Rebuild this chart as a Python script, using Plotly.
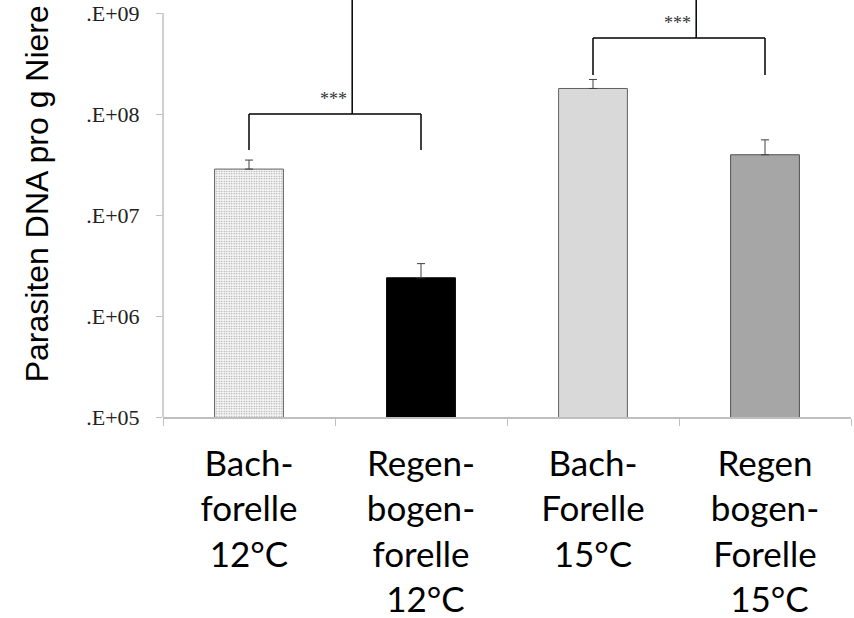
import numpy as np
import plotly.graph_objects as go

# ---- data ----
categories = ["Bach-<br>forelle<br>12°C",
              "Regen-<br>bogen-<br>forelle<br> 12°C",
              "Bach-<br>Forelle<br>15°C",
              "Regen<br>bogen-<br>Forelle<br> 15°C"]
values = [2.85e7, 2.39e6, 1.79e8, 3.95e7]
err_upper = [3.5e7, 3.3e6, 2.2e8, 5.55e7]
bar_colors = ["#f7f7f7", "#000000", "#d9d9d9", "#a6a6a6"]
ytick_vals = [1e5, 1e6, 1e7, 1e8, 1e9]
ytick_text = [".E+05", ".E+06", ".E+07", ".E+08", ".E+09"]

# significance brackets: (left idx, right idx, split pos, bar level, leg bottom)
brackets = [
    (0, 1, 0.6, 1.0e8, 4.4e7),
    (2, 3, 2.6, 5.65e8, 2.43e8),
]
sig_label = "***"

x_idx = list(range(len(categories)))
errs = [u - v for u, v in zip(err_upper, values)]

fig = go.Figure()
fig.add_trace(go.Bar(
    x=x_idx, y=values, width=0.4,
    marker=dict(
        color=bar_colors,
        line=dict(color=["#606060", "#000000", "#606060", "#505050"], width=1),
        pattern=dict(shape=[".", "", "", ""], size=2.5, solidity=0.25,
                     fgcolor="#d4d4d4", fillmode="overlay"),
    ),
    error_y=dict(type="data", array=errs, arrayminus=[0] * 4, symmetric=False,
                 color="#404040", thickness=1, width=4),
    showlegend=False,
))

shapes = []
annotations = []
top = 1e10
for (a, b, mid, lvl, leg) in brackets:
    shapes.append(dict(type="line", xref="x", yref="y", x0=a, x1=b, y0=lvl, y1=lvl,
                       line=dict(color="black", width=1.5)))
    shapes.append(dict(type="line", xref="x", yref="y", x0=a, x1=a, y0=lvl, y1=leg,
                       line=dict(color="black", width=1.5)))
    shapes.append(dict(type="line", xref="x", yref="y", x0=b, x1=b, y0=lvl, y1=leg,
                       line=dict(color="black", width=1.5)))
    shapes.append(dict(type="line", xref="x", yref="y", x0=mid, x1=mid, y0=lvl, y1=top,
                       line=dict(color="black", width=1.5)))
    annotations.append(dict(x=mid, y=np.log10(lvl), xref="x", yref="y", text=sig_label,
                            showarrow=False, xanchor="right", yanchor="bottom",
                            xshift=-3, yshift=3,
                            font=dict(family="Liberation Serif", size=18, color="#333")))

# y axis line (only up to top tick)
shapes.append(dict(type="line", xref="paper", yref="y", x0=0, x1=0,
                   y0=ytick_vals[0], y1=ytick_vals[-1],
                   line=dict(color="#bfbfbf", width=1.5)))

annotations.append(dict(text="Parasiten DNA pro g Niere", textangle=-90,
                        xref="paper", yref="paper", x=-0.182, y=0.536,
                        showarrow=False, xanchor="center", yanchor="middle",
                        font=dict(family="Liberation Sans", size=32, color="black")))

fig.update_layout(
    width=854, height=618,
    margin=dict(l=163, r=3, t=0, b=201, autoexpand=False),
    plot_bgcolor="white", paper_bgcolor="white",
    shapes=shapes, annotations=annotations,
)
fig.update_xaxes(
    type="linear", range=[-0.5, 3.5], automargin=False,
    tickvals=x_idx, ticktext=categories, ticks="",
    minor=dict(tickvals=[-0.5, 0.5, 1.5, 2.5, 3.5], ticks="outside",
               ticklen=7, tickcolor="#bfbfbf", tickwidth=1),
    showline=True, linecolor="#bfbfbf", linewidth=1.5,
    showgrid=False, zeroline=False,
    tickfont=dict(family="Lato", size=35, color="black"),
    ticklabelstandoff=15,
)
fig.update_yaxes(
    type="log", range=[5, 9.129], automargin=False,
    tickvals=ytick_vals, ticktext=ytick_text,
    ticks="outside", ticklen=6, tickcolor="#bfbfbf", tickwidth=1,
    showline=False, showgrid=False, zeroline=False,
    tickfont=dict(family="Liberation Serif", size=22, color="#222"),
    ticklabelstandoff=12,
)

fig.write_html("out.html", config={"displayModeBar": False},
               post_script="document.body.style.margin='0px';")
